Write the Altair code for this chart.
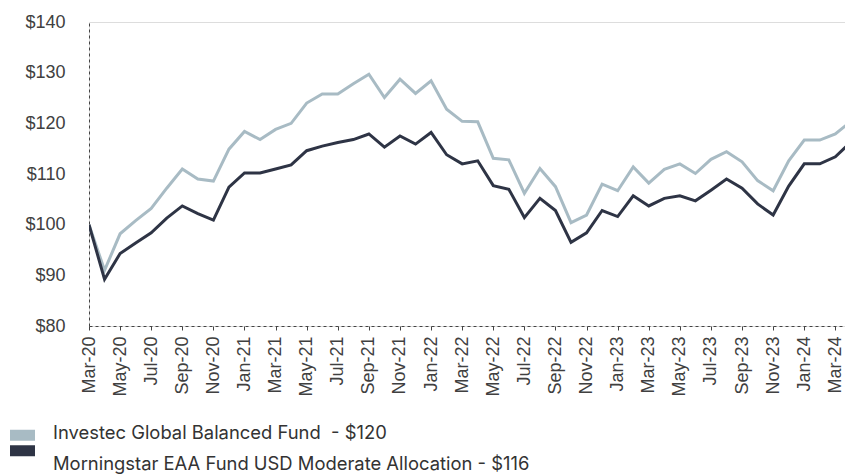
import altair as alt
import pandas as pd

months = ["Mar-20", "Apr-20", "May-20", "Jun-20", "Jul-20", "Aug-20", "Sep-20", "Oct-20",
          "Nov-20", "Dec-20", "Jan-21", "Feb-21", "Mar-21", "Apr-21", "May-21", "Jun-21",
          "Jul-21", "Aug-21", "Sep-21", "Oct-21", "Nov-21", "Dec-21", "Jan-22", "Feb-22",
          "Mar-22", "Apr-22", "May-22", "Jun-22", "Jul-22", "Aug-22", "Sep-22", "Oct-22",
          "Nov-22", "Dec-22", "Jan-23", "Feb-23", "Mar-23", "Apr-23", "May-23", "Jun-23",
          "Jul-23", "Aug-23", "Sep-23", "Oct-23", "Nov-23", "Dec-23", "Jan-24", "Feb-24",
          "Mar-24", "Apr-24"]

fund = [100.0, 91.0, 98.2, 100.8, 103.2, 107.2, 111.0, 109.0, 108.6, 114.9,
        118.4, 116.8, 118.8, 120.0, 124.0, 125.8, 125.8, 127.8, 129.7, 125.1,
        128.7, 125.9, 128.4, 122.8, 120.4, 120.3, 113.1, 112.8, 106.2, 111.1,
        107.5, 100.4, 101.9, 108.0, 106.7, 111.4, 108.2, 110.9, 112.0, 110.1,
        112.9, 114.4, 112.4, 108.7, 106.7, 112.6, 116.7, 116.7, 117.9, 120.4]

bench = [100.0, 89.2, 94.3, 96.4, 98.4, 101.3, 103.7, 102.2, 100.9, 107.4,
         110.2, 110.2, 111.0, 111.8, 114.6, 115.5, 116.2, 116.8, 117.9, 115.3,
         117.5, 115.9, 118.2, 113.8, 112.0, 112.6, 107.7, 107.0, 101.4, 105.2,
         102.8, 96.5, 98.4, 102.8, 101.6, 105.7, 103.7, 105.2, 105.7, 104.7,
         106.8, 109.0, 107.2, 104.1, 101.9, 107.6, 112.0, 112.0, 113.4, 116.3]

series_names = ["Investec Global Balanced Fund\u00a0 - $120",
                "Morningstar EAA Fund USD Moderate Allocation - $116"]
series_colors = ["#A8BBC4", "#2E3445"]

y_ticks = [80, 90, 100, 110, 120, 130, 140]
x_ticks = list(range(0, 49, 2))

rows = []
for name, vals in zip(series_names, [fund, bench]):
    for i, v in enumerate(vals):
        rows.append({"idx": i, "month": months[i], "value": v, "series": name})
df = pd.DataFrame(rows)
legend_df = pd.DataFrame({"series": series_names})

label_arr = "[" + ",".join("'" + m + "'" for m in months) + "]"
color_scale = alt.Scale(domain=series_names, range=series_colors)

lines = alt.Chart(df).mark_line(strokeWidth=3, clip=True).encode(
    x=alt.X("idx:Q",
            scale=alt.Scale(domain=[0, 48.62], nice=False, zero=False),
            axis=alt.Axis(values=x_ticks, labelExpr=label_arr + "[datum.value]",
                          labelAngle=-90, labelAlign="right", labelBaseline="middle",
                          labelFont="Liberation Sans", labelFontSize=18, labelColor="#404040",
                          labelPadding=6, tickSize=4, tickColor="#444444", tickWidth=1,
                          domainDash=[3, 3], domainColor="#444444", domainWidth=1,
                          grid=False, title=None, labelOverlap=False)),
    y=alt.Y("value:Q",
            scale=alt.Scale(domain=[80, 140], nice=False, zero=False),
            axis=alt.Axis(values=y_ticks, labelExpr="'$' + datum.value",
                          labelFont="Liberation Sans", labelFontSize=18, labelColor="#404040",
                          labelPadding=24, ticks=False, domainDash=[3, 3],
                          domainColor="#444444", domainWidth=1, grid=False, title=None)),
    color=alt.Color("series:N", scale=color_scale, legend=None),
    detail="series:N",
)

swatch_y = alt.Y("series:N",
                 scale=alt.Scale(domain=series_names, range=[405.5, 436.5], padding=0),
                 axis=None)
text_y = alt.Y("series:N",
               scale=alt.Scale(domain=series_names, range=[411, 442], padding=0),
               axis=None)

legend_swatch = alt.Chart(legend_df).mark_tick(orient="horizontal", size=25, thickness=11,
                                               opacity=1).encode(
    x=alt.value(-66.5),
    y=swatch_y,
    color=alt.Color("series:N", scale=color_scale, legend=None),
)

legend_text = alt.Chart(legend_df).mark_text(align="left", baseline="middle", font="Inter",
                                             fontSize=18.4, color="#333333").encode(
    x=alt.value(-36),
    y=text_y,
    text="series:N",
)

chart = alt.layer(lines, legend_swatch, legend_text).resolve_scale(
    y="independent"
).properties(
    width=756, height=304,
    autosize=alt.AutoSizeParams(type="none"),
    padding={"left": 89, "top": 22, "right": 0, "bottom": 148},
).configure_view(strokeWidth=0).configure(background="white")

chart.save("out.html", embed_options={"renderer": "svg", "actions": False})
